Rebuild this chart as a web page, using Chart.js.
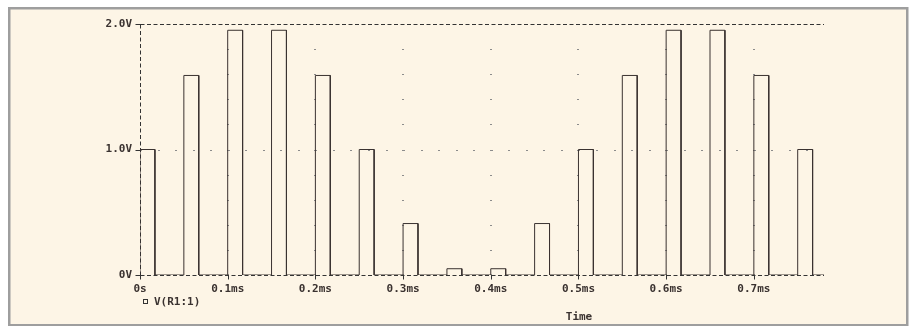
<!DOCTYPE html>
<html>
<head>
<meta charset="utf-8">
<script src="https://cdn.jsdelivr.net/npm/chart.js@4.4.1/dist/chart.umd.min.js"></script>
<style>
  html, body { margin: 0; padding: 0; background: #fff; }
  #wrap { width: 914px; height: 326px; }
</style>
</head>
<body>
<div id="wrap"><canvas id="myChart" width="914" height="326"></canvas></div>
<script>
// pulse train (time in ms, level in V)
const pulseStart = [0, 0.05, 0.10, 0.15, 0.20, 0.25, 0.30, 0.35, 0.40, 0.45, 0.50, 0.55, 0.60, 0.65, 0.70, 0.75];
const pulseLevel = [1.0, 1.59, 1.95, 1.95, 1.59, 1.0, 0.41, 0.05, 0.05, 0.41, 1.0, 1.59, 1.95, 1.95, 1.59, 1.0];
const pulseWidth = 0.017;
const timeEnd = 0.78;

const xTicks = [0, 0.1, 0.2, 0.3, 0.4, 0.5, 0.6, 0.7];
const xLabels = ["0s", "0.1ms", "0.2ms", "0.3ms", "0.4ms", "0.5ms", "0.6ms", "0.7ms"];
const yTicks = [0, 1, 2];
const yLabels = ["0V", "1.0V", "2.0V"];
const traceName = "V(R1:1)";
const axisName = "Time";

const ink = "#3a3230";
const tickFont = { family: "'DejaVu Sans Mono', monospace", size: 11, weight: "bold" };

// step points for the trace
let trace = [];
pulseStart.forEach((t, i) => {
  trace.push({ x: t, y: 0 });
  trace.push({ x: t, y: pulseLevel[i] });
  trace.push({ x: t + pulseWidth, y: pulseLevel[i] });
  trace.push({ x: t + pulseWidth, y: 0 });
});
trace.push({ x: timeEnd, y: 0 });

function dashLine(ctx, xa, ya, xb, yb) {
  ctx.beginPath();
  ctx.moveTo(xa, ya);
  ctx.lineTo(xb, yb);
  ctx.stroke();
}

const probeFrame = {
  id: "probeFrame",
  beforeDraw(chart) {
    const ctx = chart.ctx;
    ctx.save();
    ctx.fillStyle = "#ffffff";
    ctx.fillRect(0, 0, chart.width, chart.height);
    ctx.fillStyle = "#fdf5e6";
    ctx.fillRect(9, 8, 898, 317);
    ctx.strokeStyle = "#9e9e9e";
    ctx.lineWidth = 2.5;
    ctx.strokeRect(9.25, 8.25, 898, 317);
    ctx.restore();
  },
  beforeDatasetsDraw(chart) {
    const { ctx, scales: { x, y } } = chart;
    const x0 = Math.round(x.getPixelForValue(0)) + 0.5;
    const x1 = Math.round(x.getPixelForValue(timeEnd));
    const yTop = Math.round(y.getPixelForValue(2)) + 0.5;
    const yBot = Math.round(y.getPixelForValue(0)) + 0.5;
    ctx.save();

    // dotted grid
    ctx.fillStyle = "#8c8c8c";
    xTicks.slice(1).forEach((t) => {
      const px = Math.round(x.getPixelForValue(t));
      for (let k = 1; k < 10; k++) {
        ctx.fillRect(px - 1, Math.round(y.getPixelForValue(k * 0.2)), 2, 1);
      }
    });
    const yMid = Math.round(y.getPixelForValue(1));
    for (let k = 1; k * 0.02 < timeEnd; k++) {
      ctx.fillRect(Math.round(x.getPixelForValue(k * 0.02)), yMid, 2, 1);
    }

    // dashed axes
    ctx.strokeStyle = "#333";
    ctx.lineWidth = 1;
    ctx.setLineDash([4, 2.5]);
    dashLine(ctx, x0, yTop, x1, yTop);
    dashLine(ctx, x0, yTop, x0, yBot);
    dashLine(ctx, x0, yBot, x1, yBot);
    ctx.setLineDash([]);

    // tick marks
    yTicks.forEach((v) => {
      const py = Math.round(y.getPixelForValue(v)) + 0.5;
      dashLine(ctx, x0 - 5, py, x0 + 1, py);
    });
    xTicks.forEach((t) => {
      const px = Math.round(x.getPixelForValue(t)) + 0.5;
      dashLine(ctx, px, yBot - 1, px, yBot + 4);
    });

    // legend + axis name
    ctx.fillStyle = ink;
    ctx.font = "bold 11px 'DejaVu Sans Mono', monospace";
    ctx.textBaseline = "middle";
    ctx.textAlign = "left";
    ctx.strokeRect(143.5, 299.5, 4, 4);
    ctx.fillText(chart.data.datasets[0].label, 154, 302);
    ctx.textAlign = "center";
    ctx.fillText(axisName, 579, 317);
    ctx.restore();
  }
};

var ctx = document.getElementById("myChart").getContext("2d");
var myChart = new Chart(ctx, {
  type: "line",
  data: {
    datasets: [
      {
        label: traceName,
        data: trace,
        borderColor: ink,
        borderWidth: 1,
        pointRadius: 0,
        fill: false,
        tension: 0,
      },
    ],
  },
  options: {
    responsive: false,
    animation: false,
    events: [],
    layout: { padding: { left: 0, right: 90, top: 24, bottom: 0 } },
    plugins: { legend: { display: false }, tooltip: { enabled: false } },
    scales: {
      x: {
        type: "linear",
        min: 0,
        max: timeEnd,
        grid: { display: false, drawTicks: false },
        border: { display: false },
        afterFit: (s) => { s.height = 51; },
        afterBuildTicks: (s) => { s.ticks = xTicks.map((v) => ({ value: v })); },
        ticks: {
          autoSkip: false,
          maxRotation: 0,
          padding: 8,
          color: ink,
          font: tickFont,
          callback: (v, i) => xLabels[i],
        },
      },
      y: {
        min: 0,
        max: 2,
        grid: { display: false, drawTicks: false },
        border: { display: false },
        afterFit: (s) => { s.width = 140; },
        afterBuildTicks: (s) => { s.ticks = yTicks.map((v) => ({ value: v })); },
        ticks: {
          padding: 8,
          color: ink,
          font: tickFont,
          callback: (v, i) => yLabels[i],
        },
      },
    },
  },
  plugins: [probeFrame],
});
</script>
</body>
</html>
